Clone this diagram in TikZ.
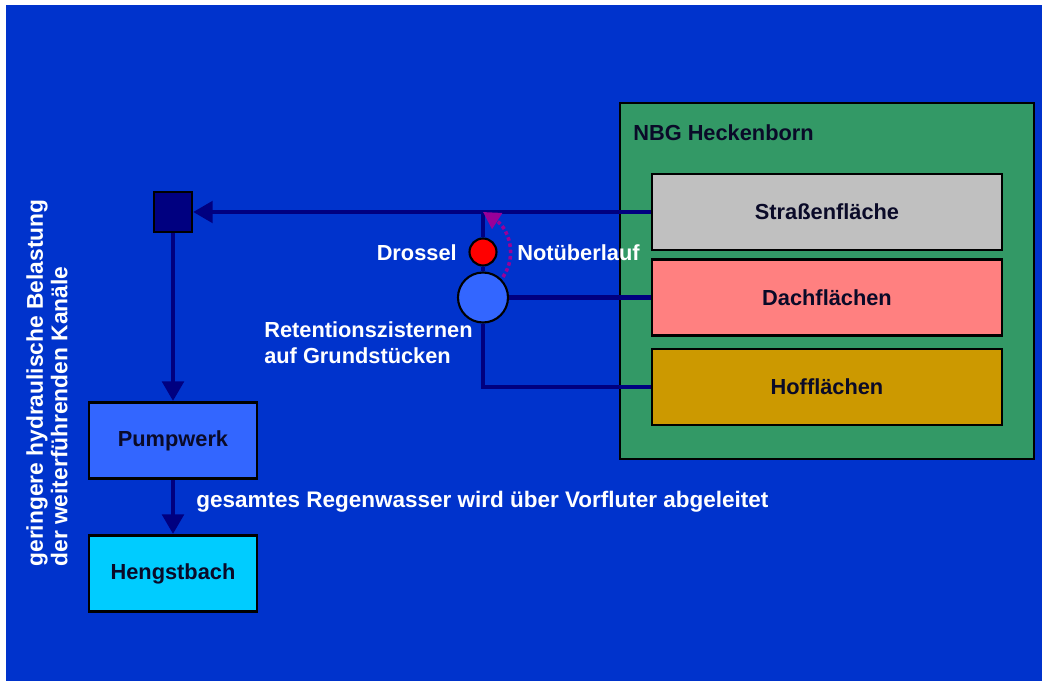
\documentclass[tikz,border=0pt]{standalone}
\usepackage{fontspec}
\setmainfont{Liberation Sans}
\usetikzlibrary{arrows.meta}

\definecolor{slide}{RGB}{0,51,204}
\definecolor{pipeblue}{RGB}{0,0,128}
\definecolor{nbggreen}{RGB}{51,153,102}
\definecolor{streetgray}{RGB}{192,192,192}
\definecolor{roofpink}{RGB}{255,128,128}
\definecolor{yardgold}{RGB}{204,153,0}
\definecolor{pumpblue}{RGB}{51,102,255}
\definecolor{brookcyan}{RGB}{0,204,255}
\definecolor{overflow}{RGB}{153,0,153}
\definecolor{boxtext}{RGB}{10,10,40}

\begin{document}
\begin{tikzpicture}[x=0.025cm,y=-0.025cm,
   font=\bfseries\fontsize{15.5}{18.5}\selectfont,
   area/.style={draw=black,line width=2pt,minimum width=8.75cm,minimum height=1.9cm,text=boxtext},
   plant/.style={draw=black,line width=2pt,minimum width=4.2cm,minimum height=1.9cm,text=boxtext},
   pipe/.style={draw=pipeblue,line width=3.5pt},
   flow/.style={pipe,-{Triangle[length=14pt,width=15pt]}},
   lbl/.style={text=white,inner sep=0pt}]

   % background
   \useasboundingbox (0,0) rectangle (1042,681);
   \fill[white] (0,0) rectangle (1042,681);
   \fill[slide] (6,5) rectangle (1042,681);

   % catchment
   \node[draw=black,line width=2pt,fill=nbggreen,minimum width=10.35cm,minimum height=8.9cm] (nbg) at (827,281) {};
   \node[anchor=west,text=boxtext,inner sep=0pt] (nbglabel) at (633,133) {NBG Heckenborn};
   \node[area,fill=streetgray] (street) at (827,212) {Straßenfläche};
   \node[area,fill=roofpink] (roof) at (827,297.5) {Dachflächen};
   \node[area,fill=yardgold] (yard) at (827,387) {Hofflächen};

   % cistern with throttle
   \coordinate (tee) at (483,212);
   \node[circle,draw=black,line width=1.5pt,fill=red,inner sep=0pt,minimum size=0.675cm] (throttle) at (483,252) {};
   \node[circle,draw=black,line width=1.5pt,fill=pumpblue,inner sep=0pt,minimum size=1.25cm] (cistern) at (483,297.5) {};

   % left branch
   \node[draw=black,line width=1.5pt,fill=pipeblue,minimum width=0.95cm,minimum height=1cm,inner sep=0pt] (shaft) at (173,212) {};
   \node[plant,fill=pumpblue] (pump) at (173,440.5) {Pumpwerk};
   \node[plant,fill=brookcyan] (brook) at (173,573.5) {Hengstbach};

   % pipes
   \draw[pipe] (tee) -- (throttle.north);
   \draw[pipe] (throttle.south) -- (cistern.north);
   \draw[pipe] (cistern.east) -- (roof.west);
   \draw[pipe] (cistern.south) |- (yard.west);
   \draw[flow] (street.west) -- (shaft.east);
   \draw[flow] (shaft.south) -- (pump.north);
   \draw[flow] (pump.south) -- (brook.north);

   % emergency overflow
   \coordinate (spill) at (503,277);
   \draw[overflow,line width=2.5pt,dotted,-{Triangle[length=12pt,width=13pt]}]
      (spill) .. controls (518,255) and (508,228) .. (tee);

   % labels
   \node[lbl,anchor=east] (throttlelabel) at (457,253) {Drossel};
   \node[lbl,anchor=west] (spilllabel) at (517,253) {Notüberlauf};
   \node[lbl,anchor=west,align=left] (cisternlabel) at (264,343) {Retentionszisternen\\auf Grundstücken};
   \node[lbl,anchor=west,font=\bfseries\fontsize{16}{19}\selectfont] (brooklabel) at (196,502) {gesamtes Regenwasser wird über Vorfluter abgeleitet};
   \node[lbl,rotate=90,align=left,font=\bfseries\fontsize{16.2}{17.5}\selectfont] (loadlabel) at (47,383) {geringere hydraulische Belastung\\der weiterführenden Kanäle};

\end{tikzpicture}
\end{document}
